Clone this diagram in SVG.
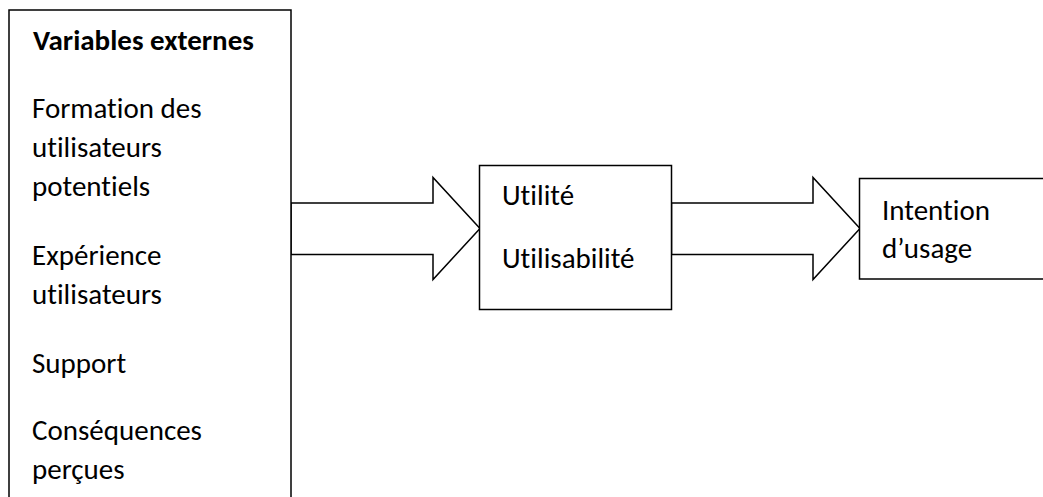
<svg xmlns="http://www.w3.org/2000/svg" width="1043" height="497" viewBox="0 0 1043 497">
  <style>
    .box { fill: #ffffff; stroke: #000000; stroke-width: 1.5; }
    .arrow { fill: #ffffff; stroke: #000000; stroke-width: 1.5; stroke-linejoin: miter; }
    .t { font-family: Carlito, Calibri, "Liberation Sans", sans-serif; font-size: 29px; fill: #000000; font-variant-ligatures: none; }
    .b { font-weight: bold; }
  </style>
  <rect x="0" y="0" width="1043" height="497" fill="#ffffff"/>
  <g id="connectors">
    <polygon class="arrow" points="291,203 433,203 433,177.5 480,228.5 433,279.5 433,254.5 291,254.5"/>
    <polygon class="arrow" points="671.5,203 813,203 813,177.5 860,228.5 813,279.5 813,254.5 671.5,254.5"/>
  </g>
  <g id="node-variables">
    <rect class="box" x="9" y="10" width="282" height="520"/>
    <text class="t b" x="33" y="50">Variables externes</text>
    <text class="t" x="32" y="118">Formation des</text>
    <text class="t" x="32" y="157">utilisateurs</text>
    <text class="t" x="32" y="196">potentiels</text>
    <text class="t" x="32" y="265">Expérience</text>
    <text class="t" x="32" y="304">utilisateurs</text>
    <text class="t" x="32" y="373">Support</text>
    <text class="t" x="32" y="440">Conséquences</text>
    <text class="t" x="32" y="479">perçues</text>
  </g>
  <g id="node-utilite">
    <rect class="box" x="479.5" y="165.5" width="192" height="144"/>
    <text class="t" x="502" y="205">Utilité</text>
    <text class="t" x="502" y="268">Utilisabilité</text>
  </g>
  <g id="node-intention">
    <rect class="box" x="859.5" y="178.5" width="220" height="100.5"/>
    <text class="t" x="882" y="220">Intention</text>
    <text class="t" x="882" y="258">d’usage</text>
  </g>
</svg>
